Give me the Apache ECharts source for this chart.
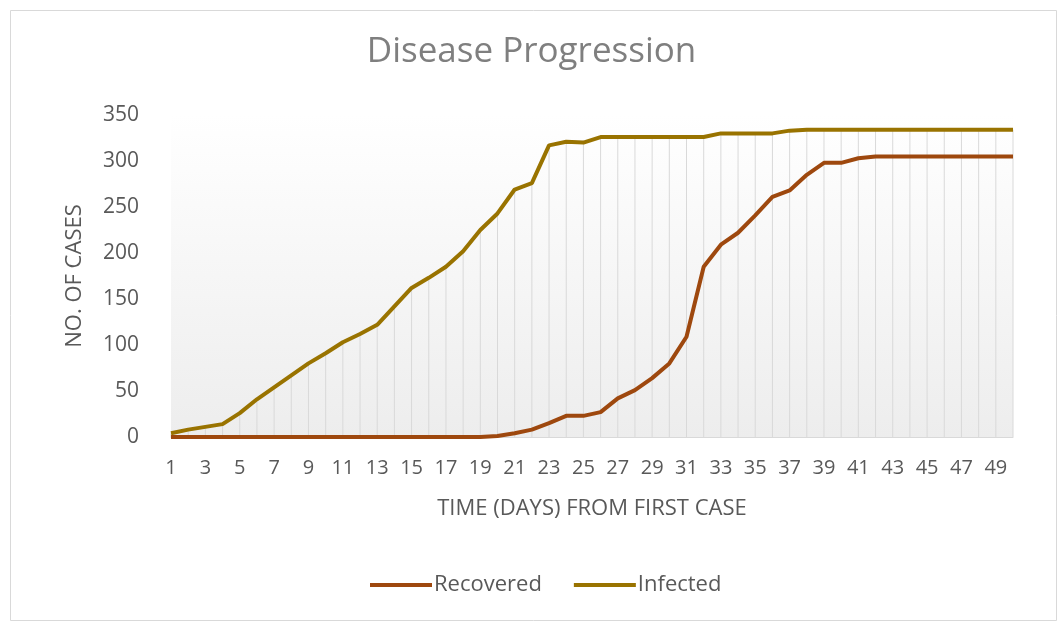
<!DOCTYPE html>
<html>
<head>
<meta charset="utf-8">
<script src="https://cdn.jsdelivr.net/npm/echarts@6/dist/echarts.min.js"></script>
<style>
  html, body { margin: 0; padding: 0; background: #fff; }
  #chart { width: 1063px; height: 625px; }
</style>
</head>
<body>
<div id="chart"></div>
<script>
  // days 1..50
  var days = []
  for (var d = 1; d <= 50; d++) days.push(String(d))

  var recovered = [
    0, 0, 0, 0, 0, 0, 0, 0, 0, 0,
    0, 0, 0, 0, 0, 0, 0, 0, 0, 1,
    4, 8, 15, 23, 23, 27, 42, 51, 64, 80,
    109, 185, 209, 222, 241, 261, 268, 285, 298, 298,
    303, 305, 305, 305, 305, 305, 305, 305, 305, 305
  ]

  var infected = [
    4, 8, 11, 14, 26, 41, 54, 67, 80, 91,
    103, 112, 122, 142, 162, 173, 185, 202, 225, 243,
    269, 276, 317, 321, 320, 326, 326, 326, 326, 326,
    326, 326, 330, 330, 330, 330, 333, 334, 334, 334,
    334, 334, 334, 334, 334, 334, 334, 334, 334, 334
  ]

  var yTicks = { min: 0, max: 350, interval: 50 }

  var font = 'Open Sans, Noto Sans, sans-serif'
  var textGray = '#595959'

  var chart = echarts.init(document.getElementById('chart'))
  var option = {
    backgroundColor: '#fff',
    animation: false,
    textStyle: { fontFamily: font },
    title: {
      text: 'Disease Progression',
      left: 'center',
      top: 30,
      textStyle: { fontSize: 35, fontWeight: 'normal', color: '#7f7f7f', fontFamily: font }
    },
    graphic: [
      {
        type: 'rect',
        left: 8, top: 8,
        shape: { width: 1046, height: 610 },
        style: { fill: 'none', stroke: '#d9d9d9', lineWidth: 1 },
        silent: true, z: -10
      }
    ],
    legend: {
      data: ['Recovered', 'Infected'],
      bottom: 24,
      left: 365,
      icon: 'rect',
      itemWidth: 62,
      itemHeight: 4,
      itemGap: 32,
      textStyle: { fontSize: 22, color: textGray, fontFamily: font, padding: [0, 0, 0, -3] }
    },
    grid: {
      left: 171,
      right: 50,
      top: 115,
      bottom: 188,
      show: true,
      borderWidth: 0,
      backgroundColor: new echarts.graphic.LinearGradient(0, 0, 0, 1, [
        { offset: 0, color: '#ffffff' },
        { offset: 1, color: '#ededed' }
      ])
    },
    xAxis: {
      type: 'category',
      data: days,
      boundaryGap: false,
      name: 'TIME (DAYS) FROM FIRST CASE',
      nameLocation: 'middle',
      nameGap: 61,
      nameTextStyle: { fontSize: 22, color: textGray },
      axisLine: { show: true, lineStyle: { color: '#d9d9d9' } },
      axisTick: { show: false },
      axisLabel: { interval: 1, fontSize: 20, color: textGray, margin: 21 },
      splitLine: { show: false }
    },
    yAxis: {
      type: 'value',
      min: yTicks.min,
      max: yTicks.max,
      interval: yTicks.interval,
      name: 'NO. OF CASES',
      nameLocation: 'middle',
      nameGap: 85,
      nameTextStyle: { fontSize: 22, color: textGray },
      axisLine: { show: false },
      axisTick: { show: false },
      axisLabel: { fontSize: 21, color: textGray, margin: 32 },
      splitLine: { show: false }
    },
    series: [
      {
        // drop lines from the top series down to the axis
        name: 'drop',
        type: 'bar',
        data: infected,
        barWidth: 1,
        silent: true,
        itemStyle: { color: '#d9d9d9' },
        z: 1
      },
      {
        name: 'Recovered',
        type: 'line',
        data: recovered,
        showSymbol: false,
        lineStyle: { width: 4, color: '#9e480e' },
        itemStyle: { color: '#9e480e' },
        z: 3
      },
      {
        name: 'Infected',
        type: 'line',
        data: infected,
        showSymbol: false,
        lineStyle: { width: 4, color: '#997300' },
        itemStyle: { color: '#997300' },
        z: 4
      }
    ]
  }
  chart.setOption(option)
  window.addEventListener('resize', () => {
    chart.resize()
  })
</script>
</body>
</html>
